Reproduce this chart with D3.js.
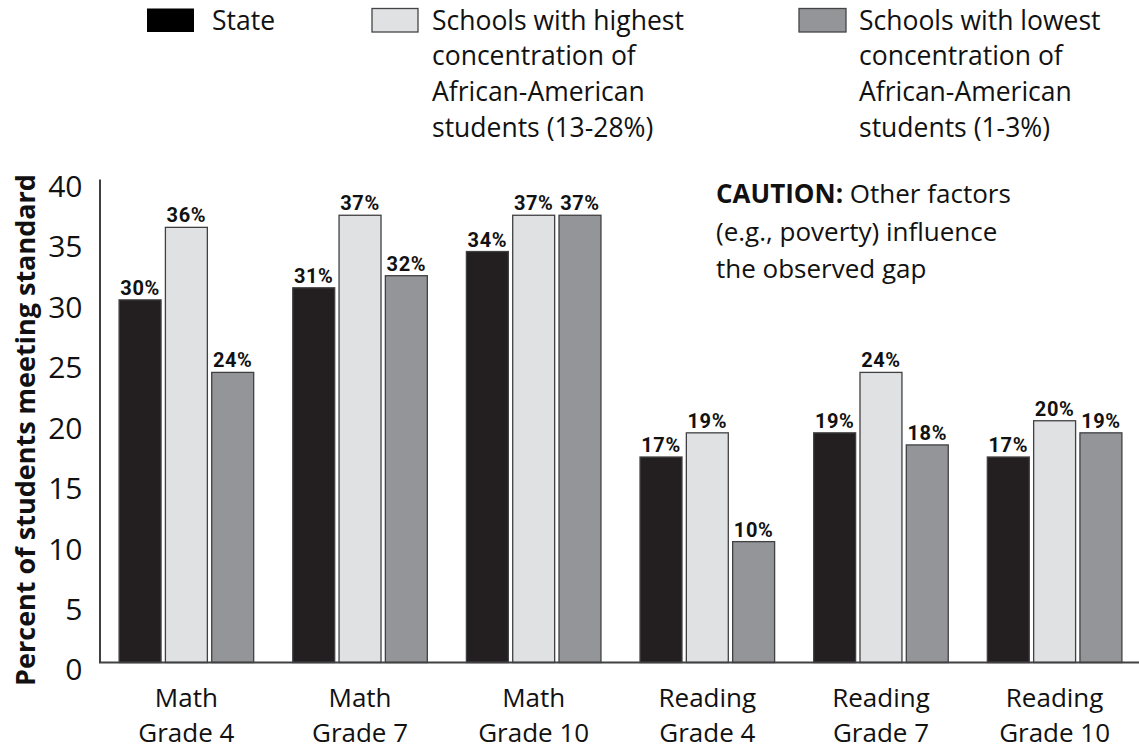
<!DOCTYPE html>
<html>
<head>
<meta charset="utf-8">
<script src="https://cdn.jsdelivr.net/npm/d3@7"></script>
<style>
  html, body { margin: 0; padding: 0; background: #fff; }
  svg { display: block; }
</style>
</head>
<body>
<svg id="chart" width="1139" height="748"></svg>
<script>
// Test groups (two-line axis labels)
const categories = [
  ["Math", "Grade 4"],
  ["Math", "Grade 7"],
  ["Math", "Grade 10"],
  ["Reading", "Grade 4"],
  ["Reading", "Grade 7"],
  ["Reading", "Grade 10"]
];

// Percent of students meeting standard
const stateValues   = [30, 31, 34, 17, 19, 17];
const highestValues = [36, 37, 37, 19, 24, 20];
const lowestValues  = [24, 32, 37, 10, 18, 19];

const seriesKeys = ["state", "highest", "lowest"];
const seriesLabels = [
  ["State"],
  ["Schools with highest", "concentration of", "African-American", "students (13-28%)"],
  ["Schools with lowest", "concentration of", "African-American", "students (1-3%)"]
];

const yTicks = [0, 5, 10, 15, 20, 25, 30, 35, 40];

const cautionLines = [
  { bold: "CAUTION:", rest: " Other factors" },
  { bold: "", rest: "(e.g., poverty) influence" },
  { bold: "", rest: "the observed gap" }
];

const fills = { state: "#231f20", highest: "#e0e1e3", lowest: "#939598" };
const outline = "#414042";

const seriesData = { state: stateValues, highest: highestValues, lowest: lowestValues };
const catKeys = categories.map(c => c.join(" "));
const rows = catKeys.map((k, i) => ({
  key: k,
  values: seriesKeys.map(s => ({ series: s, value: seriesData[s][i] }))
}));

const svg = d3.select("#chart");
const font = "'Open Sans', 'Noto Sans', sans-serif";

const x = d3.scaleBand().domain(catKeys).range([100, 1141]).paddingInner(0.225).paddingOuter(0.11);
const xSub = d3.scaleBand().domain(seriesKeys).range([0, x.bandwidth()]).paddingInner(0.094);
const y = d3.scaleLinear().domain([0, 40]).range([662.5, 179]);

// Bars
const groups = svg.append("g").selectAll("g")
  .data(rows).join("g")
  .attr("transform", d => `translate(${x(d.key)},0)`);

groups.selectAll("rect")
  .data(d => d.values).join("rect")
  .attr("x", d => xSub(d.series))
  .attr("y", d => y(d.value))
  .attr("width", xSub.bandwidth())
  .attr("height", d => y(0) - y(d.value))
  .attr("fill", d => fills[d.series])
  .attr("stroke", outline)
  .attr("stroke-width", 1.3);

// Value labels
groups.selectAll("text")
  .data(d => d.values).join("text")
  .attr("x", d => xSub(d.series) + xSub.bandwidth() / 2)
  .attr("y", d => y(d.value) - 5)
  .attr("text-anchor", "middle")
  .attr("font-family", "Roboto, sans-serif")
  .attr("font-weight", 700)
  .attr("font-size", 20)
  .attr("letter-spacing", 0.6)
  .attr("fill", "#111")
  .text(d => d.value + "%");

// Y axis
const yAxis = svg.append("g")
  .attr("transform", "translate(99.5,0)")
  .call(d3.axisLeft(y).tickValues(yTicks).tickSize(0).tickPadding(17));
yAxis.select(".domain").attr("stroke", outline).attr("stroke-width", 2);
yAxis.selectAll("text")
  .attr("font-family", font)
  .attr("font-size", 30)
  .attr("fill", "#111")
  .attr("dy", "0.58em");

// X axis
const xAxis = svg.append("g")
  .attr("transform", `translate(0,${y(0)})`)
  .call(d3.axisBottom(x).tickSize(0).tickFormat(""));
xAxis.select(".domain").remove();
svg.append("line")
  .attr("x1", 99).attr("x2", 1139)
  .attr("y1", y(0)).attr("y2", y(0))
  .attr("stroke", outline).attr("stroke-width", 2.2);

xAxis.selectAll(".tick text")
  .attr("font-family", font)
  .attr("font-size", 26)
  .attr("fill", "#111")
  .attr("y", 0)
  .attr("dy", null)
  .each(function (d, i) {
    const t = d3.select(this);
    categories[i].forEach((line, j) => {
      t.append("tspan").attr("x", 0).attr("y", 44 + j * 35).text(line);
    });
  });

// Y axis title
svg.append("text")
  .attr("transform", "translate(35,430) rotate(-90)")
  .attr("text-anchor", "middle")
  .attr("font-family", font)
  .attr("font-weight", 700)
  .attr("font-size", 27)
  .attr("fill", "#111")
  .text("Percent of students meeting standard");

// Legend
const legendItems = [
  { key: "state", sx: 147, sx2: 194, tx: 212, stroke: false },
  { key: "highest", sx: 372, sx2: 418, tx: 432, stroke: true },
  { key: "lowest", sx: 799, sx2: 846, tx: 859, stroke: true }
];
const legend = svg.append("g");
legendItems.forEach((it, i) => {
  legend.append("rect")
    .attr("x", it.sx).attr("y", 8.5)
    .attr("width", it.sx2 - it.sx).attr("height", 23.5)
    .attr("fill", it.key === "state" ? "#000" : fills[it.key])
    .attr("stroke", it.stroke ? "#444" : "none")
    .attr("stroke-width", 1.3);
  const t = legend.append("text")
    .attr("font-family", font)
    .attr("font-size", 26.5)
    .attr("fill", "#111");
  seriesLabels[i].forEach((line, j) => {
    t.append("tspan").attr("x", it.tx).attr("y", 29.5 + j * 35.7).text(line);
  });
});

// Caution note
const note = svg.append("text")
  .attr("font-family", font)
  .attr("font-size", 26)
  .attr("fill", "#111");
cautionLines.forEach((l, j) => {
  const line = note.append("tspan").attr("x", 716).attr("y", 203 + j * 37.5);
  if (l.bold) {
    line.text(l.bold).attr("font-weight", 700);
    note.append("tspan").text(l.rest);
  } else {
    line.text(l.rest);
  }
});
</script>
</body>
</html>
